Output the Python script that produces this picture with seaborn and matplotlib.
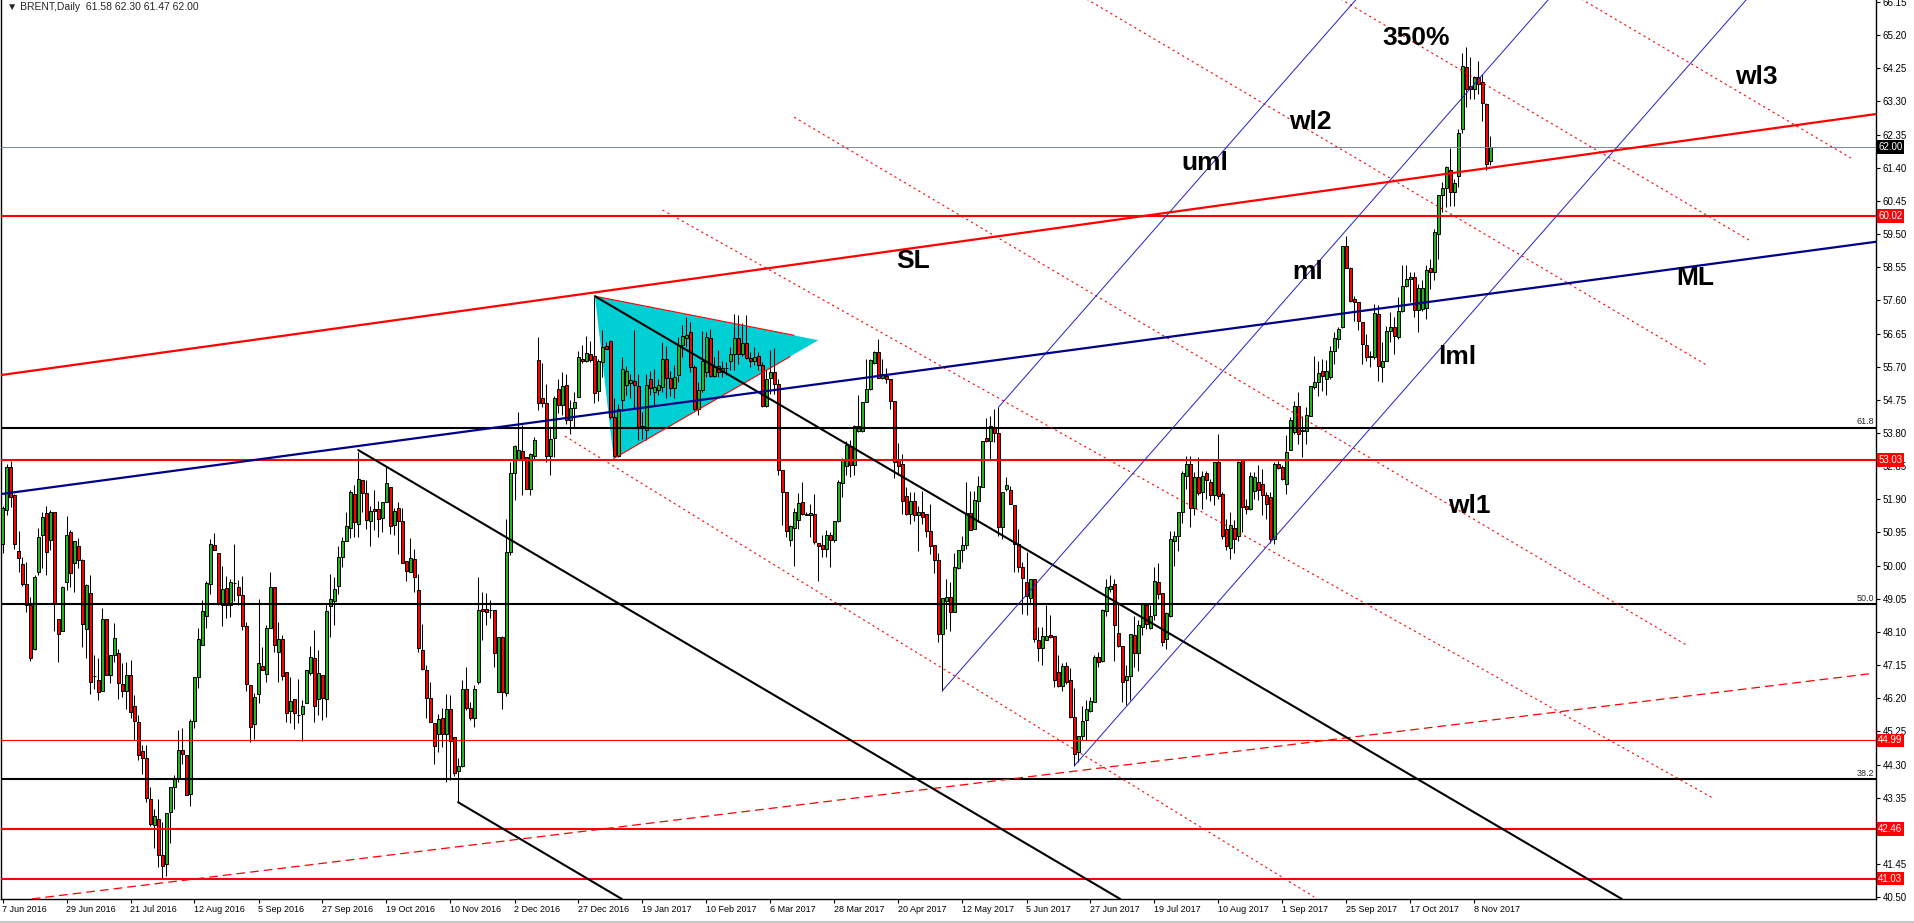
import matplotlib
matplotlib.use("Agg")
import matplotlib.pyplot as plt
from matplotlib.lines import Line2D
import numpy as np
import pandas as pd
import seaborn as sns

# Brent daily candles, 7 Jun 2016 .. mid Nov 2017
first_day = "2016-06-07"
holidays = ["2016-12-26", "2017-01-02", "2017-04-14"]

opens = [
    50.62, 51.58, 52.84, 52.03, 50.43, 50.06, 49.46, 48.88, 47.62, 49.83,
    50.88, 51.50, 50.74, 51.53, 48.48, 48.13, 49.52, 50.95, 50.08, 50.55,
    50.15, 48.17, 49.23, 46.83, 46.73, 46.40, 48.47, 46.88, 47.45, 47.51,
    46.62, 46.41, 46.88, 45.97, 45.51, 44.68, 44.48, 43.30, 42.56, 42.73,
    41.70, 41.44, 42.93, 43.67, 43.88, 44.73, 44.57, 43.45, 45.56, 46.80,
    47.73, 48.57, 49.46, 50.59, 50.36, 48.86, 49.35, 48.86, 49.51, 49.40,
    49.15, 48.26, 46.57, 45.45, 46.33, 47.12, 46.90, 48.22, 49.38, 47.52,
    47.91, 46.94, 45.84, 46.19, 45.73, 45.76, 46.05, 46.91, 47.36, 46.17,
    46.86, 46.17, 48.85, 48.98, 49.41, 50.24, 50.71, 51.08, 52.06, 51.19,
    52.46, 52.08, 51.27, 51.61, 51.61, 51.37, 51.81, 52.25, 51.16, 51.66,
    51.27, 50.13, 49.82, 50.19, 49.30, 47.58, 47.01, 46.22, 45.48, 45.19,
    45.62, 45.17, 45.89, 45.08, 44.12, 44.26, 46.46, 45.93, 45.62, 46.67,
    48.77, 48.75, 48.73, 48.72, 46.39, 47.96, 46.34, 50.40, 52.66, 53.05,
    53.28, 53.12, 52.19, 53.14, 55.88, 54.79, 54.67, 53.14, 53.66, 55.05,
    54.61, 55.17, 54.18, 54.52, 54.83, 55.93, 55.86, 56.07, 56.00, 54.99,
    55.84, 56.29, 56.43, 54.26, 53.14, 54.74, 55.17, 55.22, 55.29, 55.15,
    53.96, 53.90, 55.34, 54.98, 55.03, 55.12, 55.93, 55.38, 55.09, 55.46,
    56.33, 56.52, 56.68, 55.68, 54.50, 55.03, 55.55, 56.52, 55.43, 55.71,
    55.55, 55.65, 55.87, 56.05, 56.52, 56.05, 56.38, 55.95, 55.87, 56.00,
    55.76, 54.58, 55.38, 55.55, 55.19, 52.73, 52.11, 50.73, 51.08, 51.32,
    51.83, 51.47, 51.45, 51.49, 50.65, 50.60, 50.47, 50.89, 50.73, 51.27,
    52.38, 52.86, 53.42, 52.88, 53.85, 53.85, 54.69, 55.06, 55.81, 56.12,
    55.39, 55.44, 55.36, 54.71, 53.02, 52.90, 51.99, 51.48, 51.86, 51.45,
    51.55, 51.47, 51.00, 50.58, 50.17, 48.05, 48.98, 49.11, 48.67, 49.93,
    50.46, 50.58, 51.51, 51.05, 51.86, 52.25, 53.66, 53.58, 53.98, 53.79,
    51.12, 52.20, 52.18, 51.75, 50.62, 49.96, 49.53, 49.08, 49.62, 47.86,
    47.64, 47.86, 48.00, 47.98, 46.94, 46.54, 47.11, 46.71, 45.66, 44.66,
    45.13, 45.59, 45.83, 46.09, 47.38, 47.26, 48.71, 49.32, 49.46, 48.06,
    47.71, 46.71, 46.85, 48.00, 47.50, 48.24, 48.88, 48.21, 48.59, 49.54,
    49.21, 47.90, 48.57, 50.72, 50.84, 51.53, 52.56, 52.90, 51.65, 52.55,
    52.12, 52.65, 52.41, 52.01, 52.96, 52.06, 51.05, 50.50, 51.07, 50.85,
    53.03, 51.72, 51.63, 52.15, 52.39, 52.34, 52.03, 51.96, 50.75, 52.91,
    52.82, 52.34, 53.30, 53.82, 54.57, 53.87, 53.87, 54.30, 55.13, 55.27,
    55.59, 55.35, 55.40, 56.16, 56.48, 56.83, 59.15, 58.52, 57.64, 57.56,
    56.97, 56.32, 56.02, 55.97, 57.21, 55.68, 55.87, 56.71, 56.83, 56.54,
    57.31, 58.00, 58.21, 58.28, 57.33, 57.35, 57.37, 58.52, 58.42, 59.50,
    60.62, 60.81, 61.34, 60.71, 61.15, 62.51, 64.28, 63.75, 63.65, 64.01,
    63.85, 63.24, 61.58,
]
highs = [
    51.72, 52.92, 53.01, 52.06, 50.98, 50.26, 50.10, 49.10, 49.74, 51.09,
    51.55, 51.72, 51.58, 51.55, 48.48, 49.43, 51.41, 51.03, 50.70, 50.79,
    50.18, 49.46, 49.73, 47.45, 47.34, 48.80, 48.47, 47.45, 48.35, 47.62,
    47.22, 47.24, 47.31, 46.28, 45.72, 44.87, 44.87, 43.65, 43.03, 43.31,
    42.65, 42.91, 43.67, 44.01, 45.28, 45.35, 44.57, 45.61, 46.80, 48.21,
    49.02, 49.57, 50.76, 50.93, 50.36, 50.00, 49.69, 49.62, 50.61, 49.59,
    49.70, 48.38, 46.57, 46.35, 49.04, 47.66, 48.29, 49.81, 49.38, 48.38,
    48.00, 46.94, 46.80, 46.19, 46.75, 46.15, 47.01, 47.69, 48.15, 47.58,
    46.86, 48.91, 49.75, 49.66, 50.56, 50.82, 51.54, 52.16, 52.30, 53.26,
    52.46, 52.44, 51.70, 52.16, 51.86, 51.81, 52.83, 52.25, 51.66, 51.83,
    51.66, 50.13, 50.78, 50.49, 49.77, 48.34, 47.15, 46.67, 45.48, 45.76,
    45.91, 46.32, 46.29, 45.08, 44.50, 46.72, 47.10, 46.08, 46.58, 49.68,
    49.25, 49.23, 49.01, 48.72, 47.96, 47.99, 51.33, 52.97, 53.47, 54.39,
    54.04, 53.12, 53.24, 53.69, 56.55, 55.81, 55.19, 53.93, 54.86, 55.36,
    55.55, 55.50, 54.74, 54.98, 56.15, 56.31, 56.57, 56.43, 57.70, 55.93,
    56.74, 56.41, 56.46, 54.79, 54.64, 55.98, 55.71, 55.50, 56.74, 55.50,
    54.41, 55.50, 55.58, 55.63, 55.36, 56.41, 56.29, 55.57, 55.74, 56.55,
    56.89, 57.13, 56.98, 55.74, 55.27, 56.71, 56.70, 56.79, 55.98, 56.17,
    55.86, 55.84, 56.27, 57.22, 57.17, 56.94, 57.19, 56.12, 56.27, 56.12,
    55.84, 55.60, 56.17, 56.24, 55.36, 52.73, 52.11, 51.16, 51.64, 52.07,
    52.40, 51.54, 51.76, 52.05, 50.65, 50.87, 51.02, 50.97, 51.27, 52.45,
    53.07, 53.56, 53.59, 54.02, 54.88, 54.69, 55.93, 55.93, 56.14, 56.49,
    55.93, 55.65, 55.36, 54.71, 53.50, 53.20, 52.25, 52.12, 52.10, 51.72,
    52.15, 51.47, 51.77, 50.58, 50.37, 49.07, 49.62, 49.53, 50.37, 50.46,
    50.86, 52.39, 52.15, 52.15, 52.58, 53.58, 54.22, 54.30, 54.49, 54.54,
    52.12, 52.55, 52.29, 51.75, 51.05, 50.10, 50.39, 49.62, 49.62, 48.25,
    48.25, 48.88, 48.59, 47.98, 47.44, 47.20, 47.25, 47.06, 46.49, 45.13,
    45.99, 46.14, 46.23, 47.43, 47.52, 48.76, 49.62, 49.72, 49.62, 48.91,
    47.71, 47.14, 48.03, 48.57, 48.43, 48.91, 48.88, 48.86, 49.95, 50.08,
    49.21, 48.67, 51.00, 51.00, 51.53, 52.72, 53.15, 53.15, 52.69, 53.11,
    52.70, 52.70, 52.48, 52.96, 53.77, 52.10, 51.35, 51.53, 51.30, 53.01,
    53.03, 51.91, 52.68, 52.68, 52.87, 52.77, 52.10, 52.10, 52.96, 53.01,
    52.89, 53.73, 54.25, 54.73, 54.97, 54.30, 54.54, 55.16, 56.02, 55.87,
    55.92, 55.90, 56.30, 56.70, 56.83, 59.15, 59.44, 58.55, 57.74, 57.56,
    56.97, 56.64, 56.16, 57.50, 57.47, 56.40, 56.88, 57.28, 57.12, 57.69,
    58.60, 58.60, 58.40, 58.40, 58.07, 58.19, 58.60, 58.79, 59.64, 60.62,
    60.98, 61.46, 61.98, 61.08, 62.51, 64.69, 64.85, 64.56, 64.04, 64.47,
    64.09, 63.27, 62.30,
]
lows = [
    50.37, 51.44, 51.67, 50.48, 49.81, 49.43, 48.67, 47.28, 47.59, 49.74,
    49.93, 49.74, 50.45, 48.12, 47.25, 48.13, 49.31, 49.40, 49.24, 49.94,
    47.68, 47.36, 46.33, 46.47, 46.16, 46.40, 46.88, 46.65, 47.23, 46.18,
    46.24, 45.90, 45.64, 44.99, 44.44, 44.04, 43.23, 42.53, 41.92, 41.36,
    41.03, 41.11, 42.04, 43.03, 43.80, 44.32, 43.42, 43.10, 45.35, 46.50,
    47.73, 48.22, 49.19, 50.45, 48.86, 48.27, 48.50, 48.54, 48.98, 48.86,
    48.16, 46.41, 44.96, 45.04, 46.06, 47.00, 46.66, 48.22, 47.52, 46.66,
    46.73, 45.52, 45.49, 45.31, 45.50, 44.97, 46.05, 46.88, 45.53, 45.72,
    45.57, 45.67, 47.96, 48.31, 49.18, 49.95, 50.71, 50.79, 50.83, 50.83,
    51.54, 51.04, 50.56, 51.01, 50.83, 50.97, 51.81, 50.92, 50.87, 50.33,
    50.08, 49.55, 49.82, 49.25, 47.53, 47.01, 45.62, 45.53, 44.33, 44.67,
    44.81, 43.81, 43.86, 43.98, 43.22, 44.24, 45.86, 45.59, 45.38, 46.62,
    47.86, 48.29, 48.49, 47.10, 46.37, 45.89, 46.26, 50.30, 51.87, 53.02,
    52.02, 52.19, 52.02, 53.05, 54.45, 54.55, 52.97, 52.61, 53.12, 54.36,
    54.31, 54.07, 53.78, 53.98, 54.83, 55.82, 55.84, 55.84, 54.67, 54.72,
    55.41, 56.20, 54.21, 53.12, 53.12, 54.50, 54.88, 54.79, 54.50, 53.59,
    53.64, 53.59, 54.88, 54.59, 54.88, 54.98, 54.79, 54.85, 54.79, 55.27,
    55.98, 56.27, 55.55, 54.45, 54.31, 54.98, 55.41, 55.41, 55.41, 55.41,
    55.41, 55.46, 55.60, 55.60, 55.79, 56.01, 55.93, 55.69, 55.74, 55.60,
    54.55, 54.55, 54.93, 54.93, 52.59, 51.16, 50.82, 50.57, 49.99, 51.06,
    51.45, 51.44, 50.82, 50.63, 49.55, 50.25, 50.25, 49.96, 50.68, 51.25,
    51.97, 52.59, 52.54, 52.59, 53.83, 53.83, 54.69, 55.03, 55.79, 55.39,
    55.36, 55.22, 54.50, 52.50, 52.59, 51.48, 51.46, 51.19, 51.29, 50.43,
    51.20, 50.81, 50.34, 49.79, 47.81, 46.42, 48.19, 48.14, 48.67, 49.91,
    50.10, 50.48, 51.03, 51.05, 51.24, 52.25, 53.54, 53.06, 53.54, 50.86,
    50.77, 52.15, 51.77, 49.81, 49.81, 48.62, 48.59, 48.90, 47.81, 47.28,
    47.16, 47.86, 47.92, 46.52, 46.52, 46.40, 46.60, 45.63, 44.27, 44.37,
    44.99, 44.99, 45.80, 46.09, 47.09, 47.23, 48.57, 49.24, 47.28, 47.66,
    46.09, 46.01, 46.14, 47.09, 46.99, 48.00, 48.19, 48.19, 48.43, 49.05,
    47.71, 47.60, 48.52, 50.00, 50.43, 51.22, 52.20, 51.12, 51.45, 52.01,
    51.63, 51.91, 51.84, 51.74, 51.91, 50.75, 50.45, 50.20, 50.35, 50.70,
    50.96, 51.48, 51.58, 51.91, 51.89, 51.45, 51.34, 50.65, 50.62, 52.77,
    52.44, 52.06, 53.30, 53.78, 53.49, 53.11, 53.49, 54.30, 55.06, 54.87,
    54.99, 54.89, 55.35, 55.78, 56.23, 56.80, 58.53, 57.54, 57.02, 56.76,
    55.78, 55.87, 55.68, 55.92, 55.30, 55.25, 55.85, 56.40, 56.07, 56.49,
    57.26, 57.98, 57.55, 57.12, 56.69, 57.31, 57.07, 57.93, 58.17, 58.79,
    60.12, 60.27, 60.30, 60.31, 60.84, 62.41, 63.13, 63.37, 63.37, 63.51,
    62.75, 61.34, 61.47,
]
closes = [
    51.65, 52.84, 51.96, 50.62, 50.21, 49.48, 48.88, 47.36, 49.66, 50.81,
    51.38, 50.38, 51.53, 48.93, 48.03, 49.40, 50.89, 49.79, 50.70, 50.17,
    48.33, 49.44, 46.68, 46.85, 46.37, 48.47, 46.88, 47.45, 47.94, 46.65,
    46.40, 46.86, 45.82, 45.54, 44.56, 44.49, 43.33, 42.59, 42.82, 41.70,
    41.39, 42.91, 43.67, 43.90, 44.73, 44.59, 43.42, 45.56, 46.80, 47.91,
    48.69, 49.49, 50.61, 50.45, 48.93, 49.32, 48.86, 49.52, 49.50, 49.15,
    48.26, 46.60, 45.39, 46.25, 47.20, 47.02, 48.21, 49.38, 47.74, 47.91,
    46.85, 45.79, 46.11, 45.79, 45.72, 45.98, 47.01, 47.39, 45.98, 46.93,
    46.21, 48.70, 49.04, 49.33, 50.24, 50.71, 51.13, 52.11, 51.24, 52.48,
    52.09, 51.30, 51.56, 51.56, 51.33, 51.81, 52.36, 51.13, 51.56, 51.28,
    50.08, 49.84, 50.22, 49.67, 47.63, 47.05, 46.22, 45.53, 44.83, 45.60,
    45.19, 45.89, 44.97, 44.05, 44.26, 46.46, 45.91, 45.62, 46.46, 48.72,
    48.70, 48.68, 48.72, 47.50, 47.96, 46.39, 50.38, 52.66, 53.43, 53.31,
    53.04, 52.19, 53.21, 53.59, 54.67, 54.67, 53.14, 53.62, 54.79, 54.59,
    55.14, 54.18, 54.52, 54.69, 55.97, 55.86, 56.09, 55.88, 54.96, 55.87,
    56.27, 56.22, 54.26, 53.14, 54.50, 55.63, 55.58, 55.31, 55.17, 53.96,
    54.00, 55.17, 55.10, 55.12, 55.17, 55.93, 55.39, 55.09, 55.41, 56.31,
    56.58, 56.60, 55.68, 54.50, 55.03, 55.86, 56.55, 55.44, 55.68, 55.55,
    55.67, 55.67, 56.06, 56.52, 56.07, 56.38, 55.95, 55.87, 55.98, 55.76,
    54.58, 55.34, 55.55, 55.19, 52.73, 52.11, 50.99, 51.13, 51.54, 51.80,
    51.47, 51.45, 51.50, 50.68, 50.57, 50.47, 50.87, 50.73, 51.27, 52.40,
    53.05, 53.47, 52.88, 53.99, 53.99, 54.69, 55.07, 55.89, 56.12, 55.39,
    55.48, 55.34, 54.72, 52.97, 52.86, 51.86, 51.48, 51.84, 51.45, 51.55,
    51.39, 51.00, 50.56, 50.17, 48.05, 49.07, 49.11, 48.67, 49.96, 50.46,
    50.58, 51.51, 51.03, 51.89, 52.28, 53.56, 53.58, 54.01, 53.79, 51.12,
    52.12, 52.32, 51.77, 50.62, 49.96, 49.65, 49.14, 49.62, 47.90, 47.64,
    47.98, 47.98, 47.95, 46.73, 46.54, 47.11, 46.68, 45.66, 44.61, 45.13,
    45.56, 45.88, 46.11, 47.38, 47.24, 48.74, 49.38, 49.41, 48.31, 47.71,
    46.66, 46.85, 48.03, 47.50, 48.29, 48.89, 48.33, 48.57, 49.56, 49.19,
    47.81, 48.64, 50.77, 50.84, 51.53, 52.64, 52.90, 51.65, 52.55, 52.08,
    52.58, 52.44, 52.03, 52.96, 51.99, 50.85, 50.55, 51.15, 50.75, 52.96,
    51.67, 51.61, 52.58, 52.55, 52.18, 52.03, 51.77, 50.75, 52.91, 52.79,
    52.49, 53.27, 54.16, 54.57, 53.78, 53.88, 54.32, 55.16, 55.27, 55.51,
    55.44, 55.59, 56.16, 56.51, 56.78, 59.15, 58.53, 57.59, 57.54, 57.02,
    56.35, 55.97, 55.97, 57.23, 55.73, 55.87, 56.71, 56.83, 56.57, 57.31,
    58.02, 58.21, 58.28, 57.33, 57.95, 57.95, 58.48, 58.42, 59.55, 60.62,
    60.82, 61.43, 60.71, 60.95, 62.41, 64.32, 63.67, 63.67, 63.99, 63.80,
    63.27, 61.51, 62.00,
]

# horizontal levels
red_levels = [60.02, 53.03, 42.46, 41.03]
thin_red_levels = [44.99]
fib_levels = [53.95, 48.90, 43.88]
fib_names = ["61.8", "50.0", "38.2"]
last_price = 62.00
price_boxes = [60.02, 53.03, 44.99, 42.46, 41.03]

# trend lines as (bar, price) end points
sl_line = [(-0.4, 55.46), (468.4, 62.94)]
ml_line = [(-0.4, 52.05), (468.4, 59.28)]
rising_dashed = [(7.3, 40.45), (466.6, 46.90)]
black_channel = [
    [(148.1, 57.72), (404.8, 40.45)],
    [(88.95, 53.31), (279.4, 40.45)],
    [(113.9, 43.22), (154.8, 40.45)],
]
pitchfork = [
    [(235.0, 46.42), (387.1, 66.30)],
    [(249.0, 54.54), (339.0, 66.30)],
    [(268.0, 44.27), (436.6, 66.30)],
]
warning_lines = [
    [(393.0, 66.35), (462.1, 61.68)],
    [(332.8, 66.35), (436.6, 59.33)],
    [(269.3, 66.35), (426.3, 55.73)],
    [(197.9, 62.85), (420.9, 47.73)],
    [(165.0, 60.19), (427.6, 43.34)],
    [(140.6, 53.71), (327.9, 40.51)],
]
triangle = [(148.1, 57.72), (152.8, 53.07), (203.95, 56.46)]
triangle_edges = [
    [(148.1, 57.72), (197.9, 56.60)],
    [(152.8, 53.07), (196.9, 55.99)],
]

price_ticks = [66.15, 65.20, 64.25, 63.30, 62.35, 61.40, 60.45, 59.50, 58.55,
               57.60, 56.65, 55.70, 54.75, 53.80, 52.85, 51.90, 50.95, 50.00,
               49.05, 48.10, 47.15, 46.20, 45.25, 44.30, 43.35, 42.40, 41.45,
               40.50]
hidden_ticks = [42.40]  # covered by the 42.46 price box
date_labels = ["7 Jun 2016", "29 Jun 2016", "21 Jul 2016", "12 Aug 2016",
               "5 Sep 2016", "27 Sep 2016", "19 Oct 2016", "10 Nov 2016",
               "2 Dec 2016", "27 Dec 2016", "19 Jan 2017", "10 Feb 2017",
               "6 Mar 2017", "28 Mar 2017", "20 Apr 2017", "12 May 2017",
               "5 Jun 2017", "27 Jun 2017", "19 Jul 2017", "10 Aug 2017",
               "1 Sep 2017", "25 Sep 2017", "17 Oct 2017", "8 Nov 2017"]

# ---------------------------------------------------------------------------
sns.set_theme(style="white")
plt.rcParams["font.family"] = ["Liberation Sans", "DejaVu Sans"]

days = pd.bdate_range(first_day, periods=420).drop(pd.to_datetime(holidays))
df = pd.DataFrame({"date": days[:len(opens)], "open": opens, "high": highs,
                   "low": lows, "close": closes})
df["bar"] = np.arange(len(df))
up = df["close"] >= df["open"]

W, H = 1915, 923
fig = plt.figure(figsize=(W / 100, H / 100), dpi=100)
ax = fig.add_axes([1 / W, 24 / H, 1875 / W, 899 / H])
ax.set_facecolor("white")

RED = "#ff0000"
GREEN = "#22b222"

# cyan triangle behind candles
ax.fill([p[0] for p in triangle], [p[1] for p in triangle],
        color="#00cfd4", lw=0, zorder=1)

# candles
ax.vlines(df["bar"], df["low"], df["high"], colors="black", lw=0.75, zorder=3)
body = (df["close"] - df["open"]).abs().clip(lower=0.004)
ax.bar(df["bar"], body, bottom=df[["open", "close"]].min(axis=1), width=0.6,
       color=np.where(up, GREEN, RED), edgecolor="black", linewidth=0.7,
       zorder=4)


def seg(pts, **kw):
    sns.lineplot(x=[pts[0][0], pts[1][0]], y=[pts[0][1], pts[1][1]],
                 ax=ax, sort=False, estimator=None, **kw)


# horizontal levels
for lv in red_levels:
    ax.axhline(lv, color=RED, lw=1.5, zorder=5)
for lv in thin_red_levels:
    ax.axhline(lv, color=RED, lw=0.8, zorder=5)
for lv, name in zip(fib_levels, fib_names):
    ax.axhline(lv, color="black", lw=1.5, zorder=5)
    ax.text(467.9, lv + 0.04, name, ha="right", va="bottom", fontsize=6.5,
            zorder=6)
ax.axhline(last_price, color="#778899", lw=0.7, zorder=5)

# trend lines
for pts in warning_lines:
    seg(pts, color=RED, lw=0.8, linestyle=(0, (2, 3)), zorder=5)
seg(rising_dashed, color=RED, lw=0.9, linestyle=(0, (7, 4)), zorder=5)
for pts in triangle_edges:
    seg(pts, color=RED, lw=0.8, zorder=5)
for pts in black_channel:
    seg(pts, color="black", lw=1.5, zorder=5)
for pts in pitchfork:
    seg(pts, color="#1f1fd0", lw=0.7, zorder=5)
seg(sl_line, color=RED, lw=1.6, zorder=6)
seg(ml_line, color="#000088", lw=1.6, zorder=6)

# chart annotations
notes = [("350%", 353.5, 65.12), ("wl3", 438.5, 64.00), ("wl2", 326.9, 62.71),
         ("uml", 300.5, 61.55), ("SL", 227.75, 58.73), ("ml", 326.25, 58.40),
         ("ML", 423.1, 58.24), ("lml", 363.6, 55.98), ("wl1", 366.6, 51.72)]
for txt, bx, py in notes:
    ax.text(bx, py, txt, ha="center", va="center", fontsize=19,
            fontweight="bold", color="black", zorder=8)

ax.text(0.003, 0.998, "\u25bc BRENT,Daily  61.58 62.30 61.47 62.00",
        transform=ax.transAxes, ha="left", va="top", fontsize=7.5, zorder=8)

# price boxes on the right scale
ytr = ax.get_yaxis_transform()
for lv in price_boxes:
    ax.text(1.0012, lv, f"{lv:.2f}", transform=ytr, ha="left", va="center",
            fontsize=7, color="white", clip_on=False, zorder=9,
            bbox=dict(boxstyle="square,pad=0.18", fc=RED, ec="none"))
ax.text(1.0012, last_price, f"{last_price:.2f}", transform=ytr, ha="left",
        va="center", fontsize=7, color="white", clip_on=False, zorder=9,
        bbox=dict(boxstyle="square,pad=0.18", fc="black", ec="none"))

# axes
ax.set_xlim(-0.375, 468.375)
ax.set_ylim(40.448, 66.207)
ax.yaxis.tick_right()
ax.set_yticks(price_ticks)
ax.set_yticklabels(["" if v in hidden_ticks else f"{v:.2f}"
                    for v in price_ticks])
label_days = pd.to_datetime(date_labels, format="%d %b %Y")
tick_bars = [int(df.index[df["date"] == d][0]) for d in label_days]
ax.set_xticks(tick_bars)
ax.set_xticklabels(date_labels, ha="left")
ax.tick_params(axis="y", which="both", right=True, left=False, length=3,
               width=0.8, pad=2, labelsize=7, colors="black")
ax.tick_params(axis="x", bottom=True, length=3, width=0.8, pad=1.5,
               labelsize=6.5, colors="black")
for side in ["left", "bottom", "right"]:
    ax.spines[side].set_visible(True)
    ax.spines[side].set_color("black")
    ax.spines[side].set_linewidth(1.0)
ax.spines["top"].set_visible(False)
ax.set_xlabel("")
ax.set_ylabel("")
ax.grid(False)

fig.add_artist(Line2D([0, 1], [1.2 / H, 1.2 / H], color="#c8c8c8", lw=1.5))

fig.savefig("out.png", dpi=100)
